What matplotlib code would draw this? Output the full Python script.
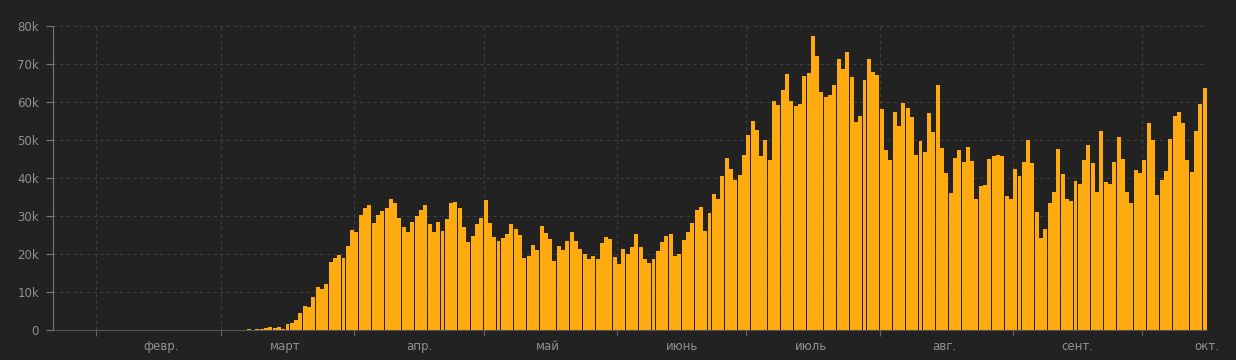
import numpy as np
import pandas as pd
import matplotlib
matplotlib.use('Agg')
import matplotlib.pyplot as plt

## Daily new cases (one list per month, from 22 Jan)
jan = [1, 0, 1, 0, 3, 0, 0, 0, 0, 1]
feb = [0, 1, 0, 2, 1, 0, 0, 0, 0, 1, 0, 0, 0, 0, 0, 0, 2, 0, 0, 0,
       0, 0, 0, 0, 1, 0, 0, 1, 5]
mar = [10, 20, 25, 30, 60, 70, 250, 100, 150, 350, 500, 700, 500, 900, 200,
       1600, 1900, 2600, 4400, 6400, 6100, 8800, 11400, 10700, 12100, 18000,
       18900, 19700, 18900, 22100, 26300]
apr = [25900, 30300, 32000, 32900, 28200, 30300, 31400, 32000, 34600, 33500,
       29400, 27000, 25900, 28500, 30000, 31700, 32900, 27900, 25900, 28400,
       26100, 29100, 33500, 33800, 32000, 27200, 23200, 24700, 27900, 29400]
may = [34200, 28100, 24600, 23500, 24100, 25300, 27900, 26700, 25000, 18900,
       19500, 22500, 21000, 27400, 25400, 23900, 18200, 22100, 21000, 23500,
       25800, 23500, 21200, 20000, 18600, 19500, 18600, 22800, 24600, 23900,
       19300]
jun = [17500, 21200, 20000, 21900, 25300, 21900, 18600, 17700, 18600, 20900,
       23200, 24700, 25300, 19600, 20000, 23700, 25900, 28200, 31500, 32300,
       26100, 30700, 35800, 34500, 40500, 45300, 42300, 39500, 40800, 46000]
jul = [51300, 55000, 52600, 45800, 50000, 44700, 60200, 59100, 63100, 67500,
       60300, 59000, 59500, 66800, 67700, 77400, 72100, 62700, 61400, 61800,
       64500, 71200, 68800, 73100, 66500, 54800, 56400, 65800, 71200, 68000,
       67100]
aug = [58100, 47400, 44700, 57300, 53800, 59800, 58300, 56000, 46000, 49800,
       46900, 57000, 52200, 64500, 48000, 41200, 36000, 45300, 47400, 44300,
       48200, 44500, 34500, 38000, 38100, 45000, 45900, 46000, 45900, 35300,
       34500]
sep = [42500, 40600, 44300, 50000, 43900, 31100, 24100, 26700, 33500, 36400,
       47600, 41000, 34600, 33900, 39100, 38400, 44700, 48700, 44000, 36400,
       52400, 38900, 38400, 44100, 50700, 44900, 36400, 33500, 42100, 41200]
oct_ = [44700, 54400, 50000, 35500, 39500, 41900, 50300, 56300, 57300, 54600,
        44700, 41700, 52400, 59500, 63600]

month_names = ['февр.', 'март', 'апр.', 'май', 'июнь', 'июль', 'авг.', 'сент.', 'окт.']
y_ticks = [0, 10000, 20000, 30000, 40000, 50000, 60000, 70000, 80000]
y_labels = ['0', '10k', '20k', '30k', '40k', '50k', '60k', '70k', '80k']

values = np.array(jan + feb + mar + apr + may + jun + jul + aug + sep + oct_)
dates = pd.date_range('2020-01-22', periods=len(values), freq='D')

## Colours
bg = '#222222'
bar_col = '#ffab0f'
grid_col = '#3f3f3f'
txt_col = '#909090'

fig = plt.figure(figsize=(12.36, 3.6), dpi=100, facecolor=bg)
ax = fig.add_axes([53/1236, 30/360, 1154/1236, 304/360], facecolor=bg)

ax.bar(dates, values, width=0.92, align='edge', color=bar_col,
       linewidth=0, antialiased=False, zorder=2)

ax.set_xlim(dates[0], dates[-1] + pd.Timedelta(days=1))
ax.set_ylim(0, 80000)

# month starts: grid + small ticks; mid-month: labels
month_starts = pd.date_range('2020-02-01', '2020-10-01', freq='MS')
mid_months = month_starts + pd.Timedelta(days=15)
ax.set_xticks(month_starts)
ax.set_xticklabels([])
ax.set_xticks(mid_months, minor=True)
ax.set_xticklabels(month_names, minor=True)
ax.tick_params(axis='x', which='major', length=4, color='#666666')
ax.tick_params(axis='x', which='minor', length=0, pad=7, labelsize=8.5,
               labelcolor=txt_col)

ax.set_yticks(y_ticks)
ax.set_yticklabels(y_labels)
ax.tick_params(axis='y', length=5, color='#777777', pad=5, labelsize=8.5,
               labelcolor=txt_col)

ax.grid(True, which='major', color=grid_col, linestyle=(0, (3, 3)), linewidth=0.8, zorder=0)
ax.set_axisbelow(True)

for s in ['top', 'right']:
    ax.spines[s].set_visible(False)
ax.spines['left'].set_color('#777777')
ax.spines['bottom'].set_color('#555555')
ax.spines['left'].set_linewidth(0.8)
ax.spines['bottom'].set_linewidth(0.8)

fig.savefig('out.png', dpi=100, facecolor=bg)
